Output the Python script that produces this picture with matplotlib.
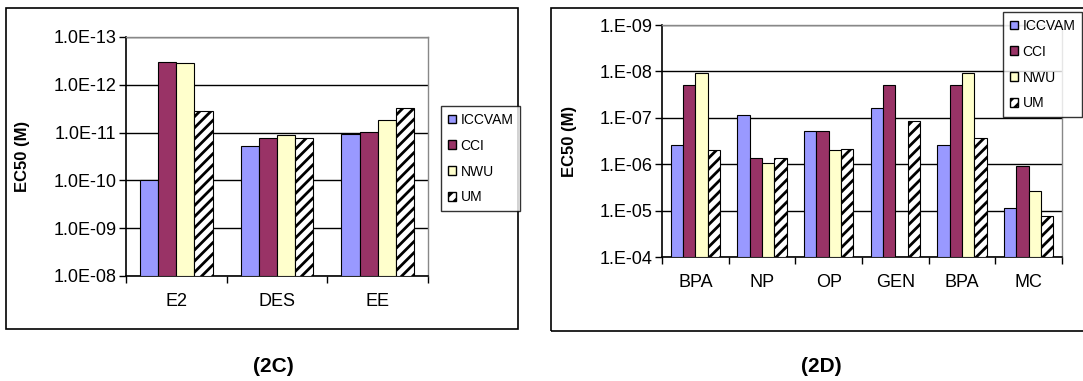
import matplotlib
matplotlib.use("Agg")
import matplotlib.pyplot as plt
from matplotlib.patches import Rectangle, Patch
from matplotlib.ticker import FixedLocator, NullLocator
import numpy as np

plt.rcParams['font.family'] = ['Liberation Sans', 'DejaVu Sans']
plt.rcParams['hatch.linewidth'] = 2.0

series = ['ICCVAM', 'CCI', 'NWU', 'UM']
colors = ['#9999FF', '#993366', '#FFFFCC', 'white']
hatches = [None, None, None, '///']

# panel 2C
cats_c = ['E2', 'DES', 'EE']
iccvam_c = [1.0e-10, 1.9e-11, 1.07e-11]
cci_c = [3.3e-13, 1.3e-11, 9.5e-12]
nwu_c = [3.5e-13, 1.1e-11, 5.4e-12]
um_c = [3.6e-12, 1.3e-11, 3.0e-12]
ticks_c = [1e-13, 1e-12, 1e-11, 1e-10, 1e-9, 1e-8]
labels_c = ['1.0E-13', '1.0E-12', '1.0E-11', '1.0E-10', '1.0E-09', '1.0E-08']

# panel 2D (GEN has no NWU value)
cats_d = ['BPA', 'NP', 'OP', 'GEN', 'BPA', 'MC']
iccvam_d = [3.9e-7, 8.6e-8, 1.9e-7, 6.2e-8, 3.9e-7, 8.8e-6]
cci_d = [2.0e-8, 7.4e-7, 1.9e-7, 2.0e-8, 2.0e-8, 1.07e-6]
nwu_d = [1.1e-8, 9.6e-7, 5.0e-7, np.nan, 1.1e-8, 3.8e-6]
um_d = [4.9e-7, 7.4e-7, 4.6e-7, 1.17e-7, 2.7e-7, 1.3e-5]
ticks_d = [1e-9, 1e-8, 1e-7, 1e-6, 1e-5, 1e-4]
labels_d = ['1.E-09', '1.E-08', '1.E-07', '1.E-06', '1.E-05', '1.E-04']

fig = plt.figure(figsize=(10.83, 3.81), dpi=100)

# outer frames around each panel
fig.patches.append(Rectangle((6 / 1083, 1 - 329 / 381), 512 / 1083, 321 / 381,
                             transform=fig.transFigure, fill=False,
                             edgecolor='black', linewidth=1.2))
fig.patches.append(Rectangle((551 / 1083, 1 - 331 / 381), 540 / 1083, 323 / 381,
                             transform=fig.transFigure, fill=False,
                             edgecolor='black', linewidth=1.2))


def draw_panel(ax, cats, data, ticks, labels, width):
    base = ticks[-1]
    x = np.arange(len(cats))
    for i, vals in enumerate(data):
        vals = np.array(vals)
        off = (i - 1.5) * width
        ax.bar(x + off, vals - base, bottom=base, width=width,
               color=colors[i], edgecolor='black', linewidth=0.8,
               hatch=hatches[i], zorder=3)
    ax.set_yscale('log')
    ax.set_ylim(ticks[-1], ticks[0])
    ax.yaxis.set_major_locator(FixedLocator(ticks))
    ax.yaxis.set_minor_locator(NullLocator())
    ax.set_yticklabels(labels, fontsize=13)
    ax.set_xlim(-0.5, len(cats) - 0.5)
    ax.set_xticks(x)
    ax.set_xticklabels(cats, fontsize=13)
    ax.set_xticks(np.arange(len(cats) + 1) - 0.5, minor=True)
    ax.tick_params(axis='x', which='major', length=0, pad=12)
    ax.tick_params(axis='x', which='minor', length=5, direction='out', width=1)
    ax.tick_params(axis='y', length=5, direction='out', width=1, pad=2)
    ax.grid(axis='y', color='black', linewidth=1, zorder=0)
    for s in ['top', 'right']:
        ax.spines[s].set_color('#888888')
        ax.spines[s].set_linewidth(1)
    for s in ['left', 'bottom']:
        ax.spines[s].set_color('black')
        ax.spines[s].set_linewidth(1.2)
    ax.set_ylabel('EC50 (M)', fontsize=12, fontweight='bold')


handles = [Patch(facecolor=colors[i], edgecolor='black', hatch=hatches[i])
           for i in range(4)]

ax1 = fig.add_axes([126 / 1083, 1 - 276 / 381, 302 / 1083, 239 / 381])
draw_panel(ax1, cats_c, [iccvam_c, cci_c, nwu_c, um_c], ticks_c, labels_c, 0.18)
ax1.yaxis.set_label_coords(-0.318, 0.5)
leg1 = fig.legend(handles, series, loc='upper left',
                  bbox_to_anchor=(441 / 1083, 1 - 106 / 381),
                  fontsize=10, frameon=True, fancybox=False,
                  edgecolor='black', handlelength=0.6, handleheight=0.6,
                  handletextpad=0.3, labelspacing=0.85, borderpad=0.5,
                  borderaxespad=0)
leg1.get_frame().set_linewidth(1)

ax2 = fig.add_axes([662 / 1083, 1 - 257 / 381, 400 / 1083, 232 / 381])
draw_panel(ax2, cats_d, [iccvam_d, cci_d, nwu_d, um_d], ticks_d, labels_d, 0.185)
ax2.yaxis.set_label_coords(-0.2125, 0.5)
leg2 = fig.legend(handles, series, loc='upper left',
                  bbox_to_anchor=(1003 / 1083, 1 - 12 / 381),
                  fontsize=10, frameon=True, fancybox=False,
                  edgecolor='black', handlelength=0.6, handleheight=0.6,
                  handletextpad=0.3, labelspacing=0.85, borderpad=0.5,
                  borderaxespad=0)
leg2.get_frame().set_linewidth(1)

fig.text(273 / 1083, 1 - 366 / 381, '(2C)', ha='center', va='center',
         fontsize=15, fontweight='bold')
fig.text(821 / 1083, 1 - 366 / 381, '(2D)', ha='center', va='center',
         fontsize=15, fontweight='bold')

fig.savefig('out.png', dpi=100)
